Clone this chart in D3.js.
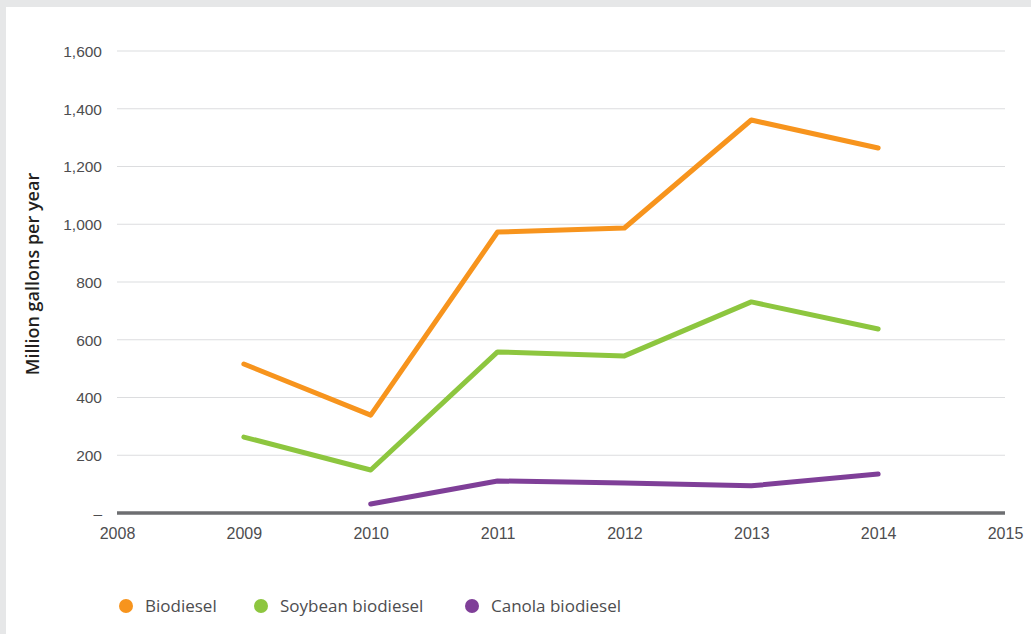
<!DOCTYPE html>
<html>
<head>
<meta charset="utf-8">
<script src="https://cdn.jsdelivr.net/npm/d3@7/dist/d3.min.js"></script>
<style>
html,body{margin:0;padding:0;background:#fff;}
svg{display:block;font-family:"Open Sans","Lato",sans-serif;}
</style>
</head>
<body>
<svg id="chart" width="1031" height="634"></svg>
<script>
const years = [2009, 2010, 2011, 2012, 2013, 2014];
const biodiesel = [516, 339, 973, 987, 1361, 1264];
const soybean = [263, 149, 558, 544, 731, 637];
const canola = [null, 31, 111, 104, 94, 135];
const seriesNames = ["Biodiesel", "Soybean biodiesel", "Canola biodiesel"];
const seriesColors = ["#f7941d", "#8dc63f", "#7f3f98"];
const xTicks = [2008, 2009, 2010, 2011, 2012, 2013, 2014, 2015];
const yTicks = [0, 200, 400, 600, 800, 1000, 1200, 1400, 1600];
const yTickLabels = ["–", "200", "400", "600", "800", "1,000", "1,200", "1,400", "1,600"];

const svg = d3.select("#chart");
const W = 1031, H = 634;
// frame
svg.append("rect").attr("width", W).attr("height", H).attr("fill", "#e6e7e8");
svg.append("rect").attr("x", 6).attr("y", 7).attr("width", W - 6).attr("height", H - 7).attr("fill", "#fff");

const x = d3.scaleLinear().domain([2008, 2015]).range([117, 1005]);
const y = d3.scaleLinear().domain([0, 1600]).range([513, 51]);
const textColor = "#4d4d4f";

// y axis labels
const yAxis = d3.axisLeft(y).tickValues(yTicks).tickSize(0).tickPadding(15)
  .tickFormat((d, i) => yTickLabels[i]);
const gy = svg.append("g").attr("transform", "translate(117,0)").call(yAxis);
gy.select(".domain").remove();
gy.selectAll("text").attr("fill", textColor).style("font-size", "15.5px").attr("dy", "0.35em");
// gridlines
svg.append("g").selectAll("line").data(yTicks.filter(d => d > 0)).join("line")
  .attr("x1", x(2008)).attr("x2", x(2015))
  .attr("y1", d => y(d)).attr("y2", d => y(d))
  .attr("stroke", "#dcdddf").attr("stroke-width", 1.2);

// x axis
const xAxis = d3.axisBottom(x).tickValues(xTicks).tickSize(0).tickPadding(15).tickFormat(d3.format("d"));
const gx = svg.append("g").attr("transform", `translate(0,${y(0)})`).call(xAxis);
gx.select(".domain").remove();
gx.selectAll("text").attr("fill", textColor).style("font-size", "16px");
svg.append("line").attr("x1", x(2008)).attr("x2", x(2015)).attr("y1", y(0)).attr("y2", y(0))
  .attr("stroke", "#6d6e71").attr("stroke-width", 3.5);

// y title
svg.append("text").attr("transform", `translate(39,${(y(0)+y(1600))/2 - 8}) rotate(-90)`)
  .attr("text-anchor", "middle").attr("fill", "#231f20")
  .style("font-size", "18px").style("font-weight", 600).text("Million gallons per year");

// lines
const data = [biodiesel, soybean, canola];
const line = d3.line().defined(d => d[1] != null).x(d => x(d[0])).y(d => y(d[1]));
data.forEach((vals, i) => {
  svg.append("path").datum(years.map((yr, j) => [yr, vals[j]]))
    .attr("d", line).attr("fill", "none").attr("stroke", seriesColors[i])
    .attr("stroke-width", 5).attr("stroke-linecap", "round").attr("stroke-linejoin", "round");
});

// legend
const legX = [126, 261, 472];
const leg = svg.append("g");
seriesNames.forEach((n, i) => {
  leg.append("circle").attr("cx", legX[i]).attr("cy", 606).attr("r", 7).attr("fill", seriesColors[i]);
  leg.append("text").attr("x", legX[i] + 19).attr("y", 606).attr("dy", "0.35em")
    .attr("fill", textColor).style("font-size", "17px").text(n);
});
</script>
</body>
</html>
